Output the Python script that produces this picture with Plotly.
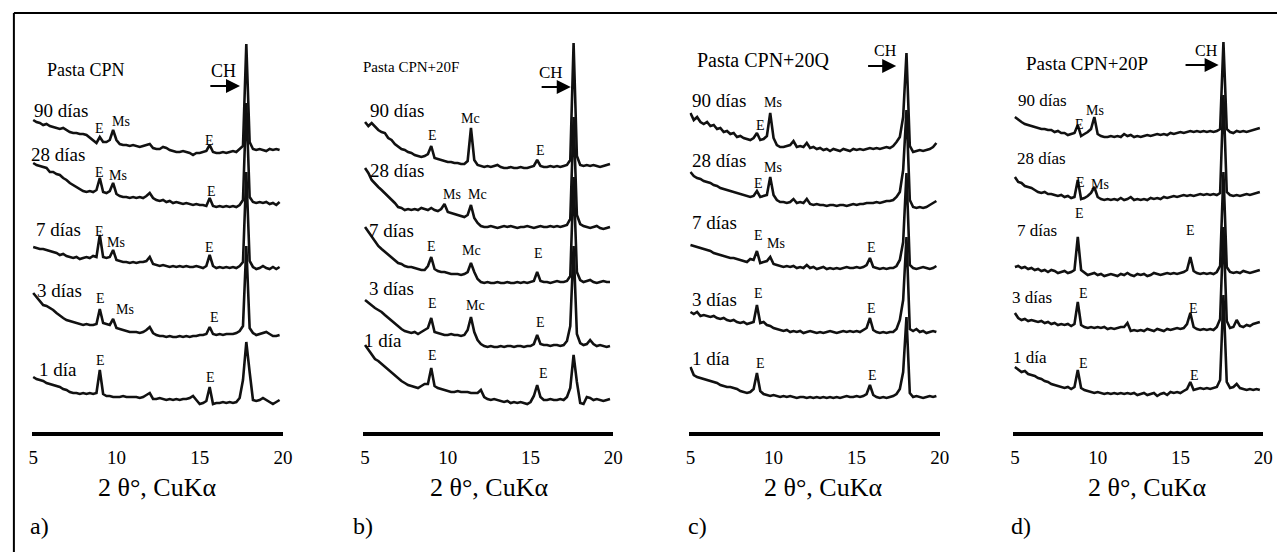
import plotly.graph_objects as go

W, H = 1287, 552

# 2-theta grid (degrees), 5.0 .. 19.8 in 0.2 steps
X_GRID = [round(5.0 + 0.2 * i, 1) for i in range(75)]
DAYS = ["1 día", "3 días", "7 días", "28 días", "90 días"]

# ---------------- Panel a) Pasta CPN (intensity above own baseline) ----------------
A_1 = [25, 23, 22, 21, 19, 18, 17, 16, 15, 13, 12, 10, 9, 9, 8,
       9, 8, 9, 8, 9, 32, 8, 6, 6, 5, 5, 5, 6, 5, 5,
       5, 5, 4, 5, 7, 9, 3, 3, 4, 3, 2, 3, 2, 3, 2,
       3, 3, 4, 6, 2, -2, -1, 1, 15, -2, -1, -1, 0, -1, 0,
       -1, 0, 4, 22, 60, 30, 2, 1, 2, 4, 2, 0, -2, 0, 2]
A_3 = [43, 39, 35, 31, 30, 28, 26, 23, 20, 18, 16, 15, 14, 13, 12,
       11, 12, 11, 11, 12, 27, 13, 12, 11, 17, 8, 7, 6, 5, 4,
       4, 4, 3, 4, 6, 9, 3, 1, 0, 0, -1, 0, -1, -1, 0,
       -1, 0, -1, 0, 0, 1, 1, 2, 9, 2, 1, 2, 1, 2, 2,
       2, 3, 5, 10, 90, 8, 3, 1, 2, 3, 4, 2, 0, 0, 1]
A_7 = [20, 19, 18, 18, 17, 16, 15, 14, 12, 13, 11, 10, 9, 10, 8,
       9, 10, 9, 11, 10, 32, 10, 9, 10, 17, 7, 6, 5, 5, 4,
       5, 4, 5, 5, 6, 10, 3, 2, 1, 2, 1, 0, 1, 0, 1,
       0, 1, 0, 0, 1, 0, -1, 1, 12, 1, -1, 0, -1, 0, -1,
       0, -1, 1, 5, 95, 6, 0, -2, -1, 1, -1, -2, 0, -2, 0]
A_28 = [40, 38, 37, 36, 35, 31, 31, 29, 28, 25, 23, 20, 18, 16, 14,
        12, 11, 12, 11, 13, 25, 11, 10, 12, 20, 9, 7, 6, 6, 5,
        6, 5, 6, 5, 7, 10, 5, 3, 2, 3, 1, 2, 0, 1, 0,
        -1, 0, -1, -2, -1, -2, -2, -3, 5, -3, -4, -3, -4, -3, -4,
        -3, -4, -2, 3, 100, 6, 1, 0, 1, 0, 1, -1, 0, -2, 1]
A_90 = [30, 28, 27, 25, 26, 24, 23, 22, 21, 22, 20, 18, 17, 17, 16,
        16, 15, 12, 10, 7, 13, 8, 8, 10, 20, 10, 6, 5, 5, 4,
        5, 4, 3, 4, 5, 6, 2, 1, 1, 3, 2, 0, -1, -2, -2,
        -1, -2, -3, -5, -3, -3, -2, -1, 5, -2, -3, -3, -2, -3, -2,
        -1, -2, 1, 4, 106, 8, 1, 0, 1, 0, -1, 1, 0, 1, 0]
OFF_A = [32, 98, 167, 231, 284]

# ---------------- Panel b) Pasta CPN+20F ----------------
B_1 = [55, 50, 45, 41, 39, 36, 33, 31, 28, 25, 22, 19, 17, 15, 14,
       13, 12, 14, 16, 16, 32, 14, 12, 11, 10, 9, 8, 8, 9, 8,
       8, 8, 7, 7, 7, 10, 3, 1, 0, 1, 0, -1, -2, -1, -3,
       -2, -3, -2, -3, -4, -2, 4, 15, 3, 0, 0, 1, 0, 0, 1,
       0, 3, 12, 45, 18, -3, -4, 3, 2, 0, 1, 0, -1, 0, 1]
B_3 = [46, 43, 41, 38, 36, 34, 31, 28, 25, 22, 19, 17, 15, 14, 13,
       14, 12, 14, 16, 18, 28, 14, 13, 12, 11, 11, 12, 11, 11, 10,
       11, 16, 29, 14, 6, 2, 0, -1, 0, -1, -1, 0, -1, 0, 0,
       -1, 0, 0, -1, 0, 0, 2, 11, 2, 1, 1, 0, 1, 1, 0,
       1, 5, 20, 100, 12, 3, 1, 2, 6, 2, 0, 1, 0, -1, 0]
B_7 = [55, 50, 46, 40, 36, 33, 30, 27, 24, 21, 19, 18, 16, 15, 15,
       14, 13, 12, 12, 16, 25, 13, 11, 10, 10, 9, 8, 8, 8, 7,
       8, 10, 19, 10, 3, 0, -1, 0, -1, -1, 0, -1, -1, 0, -1,
       -1, 0, -1, 0, -1, 0, 1, 10, 1, 0, 0, -1, 0, 1, 0,
       0, 1, 6, 105, 10, 2, 0, 1, 2, 0, -1, 0, 1, 0, 0]
B_28 = [59, 54, 47, 43, 40, 37, 34, 31, 27, 24, 20, 19, 17, 18, 17,
        18, 17, 19, 18, 17, 19, 17, 16, 18, 23, 15, 14, 13, 12, 11,
        10, 12, 22, 9, 4, 1, 0, 0, 1, 0, -1, 0, 1, 0, 1,
        0, -1, 0, 0, 1, 0, -1, 0, 1, 0, 0, 1, 0, 1, 0,
        1, 2, 8, 110, 12, 3, 1, 0, -1, 0, 1, -1, -2, -1, 0]
B_90 = [44, 40, 43, 39, 36, 34, 33, 28, 26, 22, 19, 17, 16, 14, 13,
        11, 10, 9, 10, 12, 20, 8, 7, 6, 5, 4, 4, 3, 3, 2,
        2, 5, 38, 6, 1, 0, -1, 0, -1, 0, 1, -1, -2, -2, -1,
        -2, -2, -1, -2, -2, -1, 0, 6, 0, -1, -1, 0, -1, 0, -1,
        0, 1, 6, 123, 10, 1, 0, 1, 0, 1, 0, -1, 0, 1, 2]
OFF_B = [34, 88, 152, 207, 268]

# ---------------- Panel c) Pasta CPN+20Q ----------------
C_1 = [30, 22, 20, 19, 18, 17, 16, 15, 14, 12, 11, 10, 10, 9, 8,
       6, 5, 4, 5, 8, 24, 6, 3, 2, 1, 2, 1, 0, 1, 0,
       1, 0, -1, 0, 0, -1, 0, -1, 0, -1, 0, -1, 0, -1, 0,
       -1, 0, 1, 0, 0, 1, 0, 1, 3, 12, 2, 0, -1, 0, -1,
       0, 1, 3, 8, 25, 80, 4, 0, 1, 0, -1, 0, 1, 0, 1]
C_3 = [20, 18, 20, 16, 17, 16, 15, 16, 14, 13, 14, 12, 11, 12, 10,
       9, 10, 8, 9, 10, 27, 9, 10, 7, 6, 4, 3, 2, 1, 2,
       0, 1, 0, 1, -1, 0, 1, 0, -1, 0, -1, 0, 1, 0, -1,
       0, 1, 0, 1, 0, 1, 0, 2, 4, 14, 2, 0, -1, 0, -1,
       0, 0, 3, 12, 32, 95, 3, 1, 3, 0, 1, -1, 0, 1, 0]
C_7 = [23, 22, 21, 20, 19, 18, 17, 15, 14, 13, 12, 11, 10, 10, 9,
       8, 7, 6, 9, 8, 17, 5, 6, 7, 11, 4, 3, 2, 1, 2,
       1, 2, 0, 1, 0, 3, 0, 1, -1, 0, 1, -1, 0, -1, 0,
       -1, 0, 1, 0, 0, 1, 0, 1, 3, 10, 1, 0, -1, 0, -1,
       0, 0, 2, 8, 26, 95, 3, 0, -1, 0, 1, 0, -1, 0, 2]
C_28 = [33, 29, 27, 26, 24, 23, 22, 20, 19, 17, 16, 15, 14, 13, 12,
        11, 10, 9, 8, 9, 14, 8, 9, 10, 28, 10, 5, 3, 3, 2,
        3, 6, 2, 3, 2, 6, 1, 0, 1, 0, 0, -1, 0, 0, -1,
        0, 0, -1, 0, 1, 0, 1, 1, 2, 2, 2, 3, 2, 3, 4,
        4, 5, 8, 13, 35, 95, 5, -2, -3, -2, -3, -2, 0, 2, 4]
C_90 = [37, 30, 33, 28, 26, 28, 24, 25, 21, 22, 18, 19, 16, 17, 13,
        14, 12, 11, 10, 12, 17, 10, 11, 14, 37, 12, 5, 3, 3, 4,
        5, 9, 3, 4, 3, 7, 2, 3, 1, 2, 0, 1, -1, 1, 0,
        -1, 1, 0, -1, 1, 0, 1, 0, 1, 2, 1, 2, 1, 2, 3,
        2, 4, 8, 13, 33, 97, 4, -2, -1, 0, -1, 0, 1, 3, 7]
OFF_C = [37, 102, 166, 229, 284]

# ---------------- Panel d) Pasta CPN+20P ----------------
D_1 = [23, 20, 18, 19, 16, 15, 14, 12, 11, 9, 8, 6, 5, 4, 3,
       2, 3, 1, 3, 20, 2, 0, -1, -2, -3, -2, -3, -4, -3, -4,
       -3, -4, -3, -4, -3, -4, -3, -5, -4, -3, -5, -4, -3, -6, -4,
       -3, -5, -2, -3, -2, -3, -1, 1, 8, 0, 1, 2, 1, 2, 1,
       2, 3, 10, 95, 8, 2, 3, 6, 2, 1, 0, 1, 0, 1, 0]
D_3 = [14, 9, 7, 8, 6, 7, 6, 5, 6, 4, 5, 3, 4, 2, 3,
       2, 3, 1, 3, 25, 2, 0, -1, 0, -1, 0, -1, 0, -2, -1,
       -2, -1, 0, 0, 4, -4, -3, -4, -3, -4, -2, -3, -4, -2, -3,
       -4, -2, -3, -2, -1, -2, -1, 3, 14, 0, -2, -3, -2, -3, -2,
       -3, 0, 8, 100, 6, -1, 0, 7, 1, 0, 2, 1, 3, 4, 5]
D_7 = [5, 6, 4, 5, 3, 4, 2, 3, 1, 2, 0, 2, 1, -1, 0,
       1, -1, 0, 2, 35, 2, -1, -3, -2, -1, -3, -2, -4, -3, -2,
       -3, -4, -2, -3, -1, -3, -4, -2, -3, -2, -4, -3, -1, -2, -3,
       -2, -1, -2, -1, -2, -1, 0, 2, 15, 1, -1, -2, -1, -2, -1,
       -2, 0, 6, 100, 5, 0, -1, 0, -1, 1, 0, -1, 0, 1, 2]
D_28 = [18, 13, 12, 9, 8, 7, 5, 3, 2, 3, 1, 1, 0, -1, 0,
        -2, -1, -3, -2, 15, -4, -3, -1, 2, 8, -2, -4, -5, -4, -5,
        -4, -5, -3, -5, -4, -2, -5, -4, -5, -4, -5, -3, -4, -3, -4,
        -2, -3, -2, -1, -2, -1, 0, -1, 0, -1, 0, 1, 0, 1, 0,
        1, 0, 2, 100, 3, 0, -1, 0, -1, 0, 1, 0, 1, 2, 3]
D_90 = [15, 12, 10, 8, 7, 6, 5, 4, 3, 3, 2, 2, 0, 1, -1,
        -1, -3, -2, -1, 7, -4, -2, 0, 3, 15, -2, -4, -5, -5, -4,
        -5, -4, -5, -2, -4, -3, -5, -4, -5, -4, -3, -4, -3, -2, -3,
        -2, -3, -1, -2, -1, 0, -1, 0, 1, 0, 1, 0, 1, 0, 1,
        0, 1, 3, 90, 3, 0, -1, 1, 0, 1, 0, 1, 2, 3, 4]
OFF_D = [44, 107, 162, 239, 302]

TITLES = ["Pasta CPN", "Pasta CPN+20F", "Pasta CPN+20Q", "Pasta CPN+20P"]
LETTERS = ["a)", "b)", "c)", "d)"]
XTICKS = [5, 10, 15, 20]
XLABEL = "2 θ°, CuKα"

# ---------------- layout helpers ----------------
FONT = "Liberation Serif"
YDOM = [(H - 432) / H, (H - 30) / H]
YRANGE = [2, 404]

panels = [
    dict(series=[A_1, A_3, A_7, A_28, A_90], off=OFF_A, px=(28, 282), rng=(4.91, 20.0),
         title=(8.15, 364, 18), ch=(16.44, 363, 18), arrow=(15.55, 17.42, 348),
         days=[(6.46, 65), (6.60, 144), (6.54, 205), (6.46, 280), (6.66, 324)], dsize=19,
         peaks=[("E", 9.07, 74), ("E", 15.67, 57),
                ("E", 9.07, 136), ("Ms", 10.5, 125), ("E", 15.9, 117),
                ("E", 9.01, 203), ("Ms", 9.96, 192), ("E", 15.6, 187),
                ("E", 9.01, 262), ("Ms", 10.08, 259), ("E", 15.72, 243),
                ("E", 9.01, 306), ("Ms", 10.26, 313), ("E", 15.6, 294)],
         xlab=155, letter=36),
    dict(series=[B_1, B_3, B_7, B_28, B_90], off=OFF_B, px=(363, 616), rng=(4.88, 20.0),
         title=(7.75, 367, 15), ch=(16.24, 362, 17), arrow=(15.58, 17.43, 347),
         days=[(6.10, 94), (6.61, 146), (6.61, 204), (6.92, 264), (6.94, 324)], dsize=19,
         peaks=[("E", 9.06, 79), ("E", 15.76, 61),
                ("E", 9.06, 131), ("Mc", 11.7, 129), ("E", 15.58, 112),
                ("E", 9.0, 188), ("Mc", 11.46, 184), ("E", 15.46, 181),
                ("Ms", 10.26, 240), ("Mc", 11.8, 240),
                ("E", 9.06, 299), ("Mc", 11.39, 316), ("E", 15.58, 284)],
         xlab=490, letter=363),
    dict(series=[C_1, C_3, C_7, C_28, C_90], off=OFF_C, px=(693, 946), rng=(4.94, 20.0),
         title=(9.35, 374, 20), ch=(16.73, 384, 16), arrow=(15.6, 17.38, 368),
         days=[(6.25, 76), (6.42, 135), (6.42, 212), (6.73, 274), (6.73, 334)], dsize=19,
         peaks=[("E", 9.23, 71), ("E", 15.95, 59),
                ("E", 9.1, 141), ("E", 15.9, 126),
                ("E", 9.1, 199), ("Ms", 10.12, 191), ("E", 15.9, 187),
                ("E", 9.1, 251), ("Ms", 9.94, 267),
                ("E", 9.23, 309), ("Ms", 9.94, 332)],
         xlab=828, letter=701),
    dict(series=[D_1, D_3, D_7, D_28, D_90], off=OFF_D, px=(1020, 1273), rng=(4.88, 20.0),
         title=(9.36, 371, 19), ch=(16.6, 384, 16), arrow=(15.22, 17.31, 369),
         days=[(5.9, 77), (6.06, 137), (6.35, 204), (6.6, 276), (6.65, 334)], dsize=17,
         peaks=[("E", 9.12, 71), ("E", 15.88, 59),
                ("E", 9.12, 141), ("E", 15.82, 126),
                ("E", 8.88, 221), ("E", 15.64, 204),
                ("E", 8.94, 252), ("Ms", 10.14, 250),
                ("E", 8.88, 310), ("Ms", 9.86, 324)],
         xlab=1156, letter=1028),
]

fig = go.Figure()
annotations = []
layout = dict(
    width=W, height=H, margin=dict(l=0, r=0, t=0, b=0),
    paper_bgcolor="white", plot_bgcolor="rgba(0,0,0,0)", showlegend=False,
)

for i, p in enumerate(panels):
    n = "" if i == 0 else str(i + 1)
    xr, yr = "x" + n, "y" + n
    for vals, off in zip(p["series"], p["off"]):
        fig.add_trace(go.Scatter(
            x=X_GRID[:len(vals)], y=[v + off for v in vals], xaxis=xr, yaxis=yr,
            mode="lines", line=dict(color="#111111", width=2.6),
            hoverinfo="skip", showlegend=False, cliponaxis=False))
    layout["xaxis" + n] = dict(
        domain=[p["px"][0] / W, p["px"][1] / W], range=list(p["rng"]), anchor=yr,
        showline=True, linewidth=4, linecolor="black", showgrid=False, zeroline=False,
        tickvals=XTICKS, ticktext=[str(t) for t in XTICKS], ticks="outside", ticklen=5,
        tickcolor="rgba(0,0,0,0)", tickfont=dict(family=FONT, size=19, color="black"),
        fixedrange=True)
    layout["yaxis" + n] = dict(domain=list(YDOM), range=YRANGE, anchor=xr, visible=False,
                               fixedrange=True)

    def txt(t, x, y, size):
        annotations.append(dict(text=t, x=x, y=y, xref=xr, yref=yr, showarrow=False,
                                xanchor="center", yanchor="middle",
                                font=dict(family=FONT, size=size, color="black")))

    tx, ty, ts = p["title"]
    txt(TITLES[i], tx, ty, ts)
    cx, cy, cs = p["ch"]
    txt("CH", cx, cy, cs)
    a0, a1, ay = p["arrow"]
    annotations.append(dict(text="", x=a1, y=ay, ax=a0, ay=ay, xref=xr, yref=yr,
                            axref=xr, ayref=yr, showarrow=True, arrowhead=2,
                            arrowsize=1.4, arrowwidth=2, arrowcolor="black"))
    for label, (dx, dy) in zip(DAYS, p["days"]):
        txt(label, dx, dy, p["dsize"])
    for t, px_, py_ in p["peaks"]:
        txt(t, px_, py_, 14)
    # axis title and panel letter in paper coordinates
    annotations.append(dict(text=XLABEL, x=p["xlab"] / W, y=1 - 487 / H, xref="paper",
                            yref="paper", showarrow=False, xanchor="center", yanchor="middle",
                            font=dict(family=FONT, size=26, color="black")))
    annotations.append(dict(text=LETTERS[i], x=p["letter"] / W, y=1 - 526 / H, xref="paper",
                            yref="paper", showarrow=False, xanchor="center", yanchor="middle",
                            font=dict(family=FONT, size=24, color="black")))

layout["annotations"] = annotations
layout["shapes"] = [
    dict(type="line", xref="paper", yref="paper", x0=10 / W, x1=1.0, y0=1 - 13 / H,
         y1=1 - 13 / H, line=dict(color="black", width=2)),
    dict(type="line", xref="paper", yref="paper", x0=10 / W, x1=10 / W, y0=1 - 13 / H,
         y1=0.0, line=dict(color="black", width=2)),
]
fig.update_layout(**layout)
fig.write_html("out.html", config={"displayModeBar": False})
